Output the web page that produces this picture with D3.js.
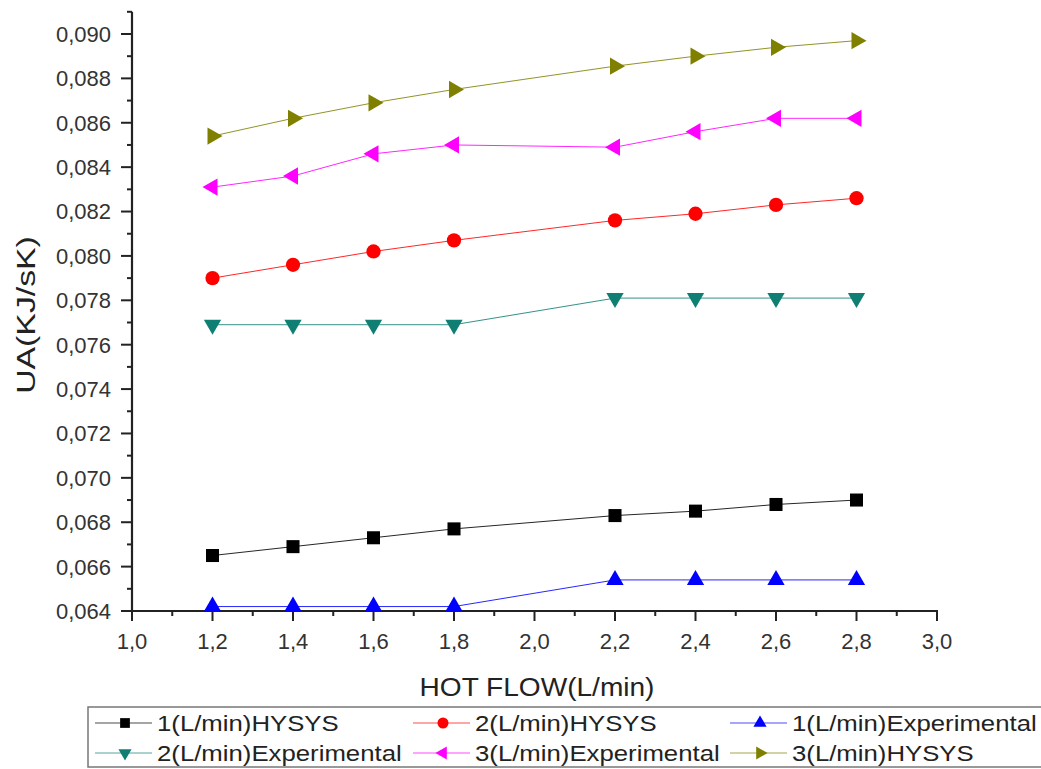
<!DOCTYPE html>
<html lang="en">
  <head>
    <meta charset="UTF-8">
    <title>UA vs Hot Flow</title>
    <style>
      body { margin: 0; background: #fff; }
      text { font-family: "Liberation Sans", Arial, sans-serif; }
      .tick-label { fill: #333; font-size: 22px; }
      .axis-title { fill: #222; font-size: 26px; }
      .legend-text { fill: #222; font-size: 23px; }
    </style>
    <script src="https://d3js.org/d3.v7.min.js"></script>
  </head>
  <body>
    <script>
      const width = 1041;
      const height = 769;

      // data
      const hotFlow = [1.2, 1.4, 1.6, 1.8, 2.2, 2.4, 2.6, 2.8];
      const hysys1 = [0.0665, 0.0669, 0.0673, 0.0677, 0.0683, 0.0685, 0.0688, 0.0690];
      const hysys2 = [0.0790, 0.0796, 0.0802, 0.0807, 0.0816, 0.0819, 0.0823, 0.0826];
      const exp1 = [0.0642, 0.0642, 0.0642, 0.0642, 0.0654, 0.0654, 0.0654, 0.0654];
      const exp2 = [0.0769, 0.0769, 0.0769, 0.0769, 0.0781, 0.0781, 0.0781, 0.0781];
      const exp3 = [0.0831, 0.0836, 0.0846, 0.0850, 0.0849, 0.0856, 0.0862, 0.0862];
      const hysys3 = [0.0854, 0.0862, 0.0869, 0.0875, 0.08855, 0.0890, 0.0894, 0.0897];
      const xTicks = [1.0, 1.2, 1.4, 1.6, 1.8, 2.0, 2.2, 2.4, 2.6, 2.8, 3.0];
      const yTicks = [0.064, 0.066, 0.068, 0.070, 0.072, 0.074, 0.076, 0.078, 0.080, 0.082, 0.084, 0.086, 0.088, 0.090];

      const series = [
        { name: "1(L/min)HYSYS", values: hysys1, color: "#000000", symbol: d3.symbolSquare, rot: 0, size: 170, lsize: 95 },
        { name: "2(L/min)HYSYS", values: hysys2, color: "#ff0000", symbol: d3.symbolCircle, rot: 0, size: 160, lsize: 95 },
        { name: "1(L/min)Experimental", values: exp1, color: "#0000ff", symbol: d3.symbolTriangle, rot: 0, size: 130, lsize: 75 },
        { name: "2(L/min)Experimental", values: exp2, color: "#0f7f74", symbol: d3.symbolTriangle, rot: 180, size: 130, lsize: 75 },
        { name: "3(L/min)Experimental", values: exp3, color: "#ff00ff", symbol: d3.symbolTriangle, rot: -90, size: 130, lsize: 75 },
        { name: "3(L/min)HYSYS", values: hysys3, color: "#808000", symbol: d3.symbolTriangle, rot: 90, size: 130, lsize: 75 }
      ];

      const svg = d3.select("body").append("svg")
        .attr("width", width)
        .attr("height", height);

      const x = d3.scaleLinear().domain([1.0, 3.0]).range([132, 937]);
      const y = d3.scaleLinear().domain([0.064, 0.091]).range([611, 11.8]);

      const comma = f => v => d3.format(f)(v).replace(".", ",");

      // x axis
      const xAxis = svg.append("g");
      xAxis.append("line")
        .attr("x1", x(1.0) - 1).attr("x2", x(3.0) + 1)
        .attr("y1", y(0.064)).attr("y2", y(0.064))
        .attr("stroke", "#222").attr("stroke-width", 2.2);
      xAxis.selectAll(".minor")
        .data(d3.range(10, 31).map(d => d / 10))
        .join("line")
        .attr("x1", d => x(d)).attr("x2", d => x(d))
        .attr("y1", y(0.064)).attr("y2", d => y(0.064) + (Math.round(d * 10) % 2 === 0 ? 10 : 5))
        .attr("stroke", "#222").attr("stroke-width", 2);
      xAxis.selectAll(".tick-label")
        .data(xTicks)
        .join("text")
        .attr("class", "tick-label")
        .attr("x", d => x(d))
        .attr("y", 649)
        .attr("text-anchor", "middle")
        .text(comma(".1f"));

      // y axis
      const yAxis = svg.append("g");
      yAxis.append("line")
        .attr("x1", x(1.0)).attr("x2", x(1.0))
        .attr("y1", y(0.091)).attr("y2", y(0.064) + 1)
        .attr("stroke", "#222").attr("stroke-width", 2.2);
      yAxis.selectAll(".minor")
        .data(d3.range(64, 92).map(d => d / 1000))
        .join("line")
        .attr("y1", d => y(d)).attr("y2", d => y(d))
        .attr("x1", x(1.0))
        .attr("x2", d => x(1.0) - (Math.round(d * 1000) % 2 === 0 ? 11 : 5))
        .attr("stroke", "#222").attr("stroke-width", 2);
      yAxis.selectAll(".tick-label")
        .data(yTicks)
        .join("text")
        .attr("class", "tick-label")
        .attr("x", 111)
        .attr("y", d => y(d))
        .attr("dy", "0.36em")
        .attr("text-anchor", "end")
        .text(comma(".3f"));

      // axis titles
      svg.append("text")
        .attr("class", "axis-title")
        .attr("transform", "translate(537,696) scale(1.08,1)")
        .attr("text-anchor", "middle")
        .text("HOT FLOW(L/min)");

      svg.append("text")
        .attr("class", "axis-title")
        .attr("transform", "translate(35,315) rotate(-90) scale(1.3,1)")
        .attr("text-anchor", "middle")
        .text("UA(KJ/sK)");

      // lines and markers
      const line = d3.line()
        .x((d, i) => x(hotFlow[i]))
        .y(d => y(d));

      series.forEach(s => {
        svg.append("path")
          .attr("d", line(s.values))
          .attr("fill", "none")
          .attr("stroke", s.color)
          .attr("stroke-width", 1)
          .attr("opacity", 0.85);

        svg.selectAll(null)
          .data(s.values)
          .join("path")
          .attr("transform", (d, i) => `translate(${x(hotFlow[i])},${y(d)}) rotate(${s.rot})`)
          .attr("d", d3.symbol().type(s.symbol).size(s.size))
          .attr("fill", s.color);
      });

      // legend
      const legend = svg.append("g");
      legend.append("rect")
        .attr("x", 88).attr("y", 707)
        .attr("width", 1000).attr("height", 60)
        .attr("fill", "none")
        .attr("stroke", "#777")
        .attr("stroke-width", 1.5);

      const colX = [95, 413, 730];
      const rowY = [723, 753];

      const item = legend.selectAll(".item")
        .data(series)
        .join("g")
        .attr("transform", (d, i) => `translate(${colX[i % 3]},${rowY[Math.floor(i / 3)]})`);

      item.append("line")
        .attr("x1", 0).attr("x2", 57)
        .attr("stroke", d => d.color)
        .attr("stroke-width", 1)
        .attr("opacity", 0.7);

      item.append("path")
        .attr("transform", d => `translate(30,0) rotate(${d.rot})`)
        .attr("d", d => d3.symbol().type(d.symbol).size(d.lsize)())
        .attr("fill", d => d.color);

      item.append("text")
        .attr("class", "legend-text")
        .attr("transform", "translate(62,8) scale(1.12,1)")
        .text(d => d.name);
    </script>
  </body>
</html>
